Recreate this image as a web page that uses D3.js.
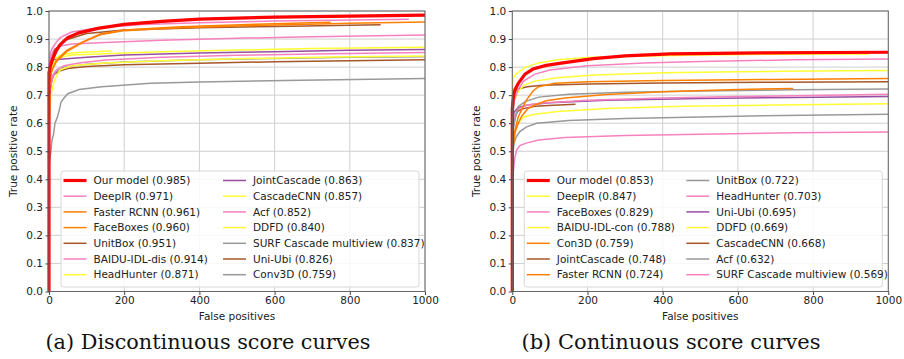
<!DOCTYPE html>
<html>
<head>
<meta charset="utf-8">
<script src="https://cdn.jsdelivr.net/npm/d3@7"></script>
<style>
  body { margin: 0; background: #fff; }
  text { font-family: "DejaVu Sans", sans-serif; }
</style>
</head>
<body>
<div id="chart"></div>
<script>
// tick values shared by both panels
const xTicks = [0, 200, 400, 600, 800, 1000];
const yTicks = [0, 0.1, 0.2, 0.3, 0.4, 0.5, 0.6, 0.7, 0.8, 0.9, 1.0];

// (a) discontinuous score curves
const leftNames = ['Our model', 'DeepIR', 'Faster RCNN', 'FaceBoxes', 'UnitBox', 'BAIDU-IDL-dis', 'HeadHunter',
  'JointCascade', 'CascadeCNN', 'Acf', 'DDFD', 'SURF Cascade multiview', 'Uni-Ubi', 'Conv3D'];
const leftScores = ['0.985', '0.971', '0.961', '0.960', '0.951', '0.914', '0.871',
  '0.863', '0.857', '0.852', '0.840', '0.837', '0.826', '0.759'];
const leftCurves = [
  [[0, 0], [0, 0.78], [3, 0.80], [10, 0.83], [20, 0.86], [30, 0.88], [50, 0.905], [80, 0.922], [130, 0.938], [200, 0.952], [300, 0.963], [400, 0.971], [600, 0.978], [800, 0.982], [1000, 0.985]],
  [[0, 0], [0, 0.80], [3, 0.85], [10, 0.87], [20, 0.89], [30, 0.905], [60, 0.925], [130, 0.94], [250, 0.952], [400, 0.958], [600, 0.964], [957, 0.971]],
  [[0, 0], [0, 0.74], [8, 0.79], [20, 0.82], [47, 0.855], [90, 0.888], [136, 0.915], [200, 0.93], [350, 0.94], [550, 0.948], [800, 0.956], [1000, 0.961]],
  [[0, 0], [0, 0.74], [8, 0.79], [20, 0.825], [47, 0.86], [90, 0.89], [136, 0.918], [200, 0.932], [350, 0.944], [550, 0.953], [749, 0.960]],
  [[0, 0], [0, 0.75], [5, 0.82], [15, 0.86], [40, 0.895], [100, 0.92], [200, 0.932], [400, 0.94], [600, 0.945], [882, 0.951]],
  [[0, 0], [0, 0.78], [5, 0.84], [15, 0.865], [30, 0.875], [60, 0.882], [150, 0.888], [300, 0.896], [500, 0.903], [700, 0.908], [1000, 0.914]],
  [[0, 0], [0, 0.72], [5, 0.78], [15, 0.82], [30, 0.835], [60, 0.843], [150, 0.848], [300, 0.855], [500, 0.861], [700, 0.866], [1000, 0.871]],
  [[0, 0], [0, 0.78], [8, 0.825], [30, 0.828], [100, 0.835], [200, 0.843], [400, 0.85], [600, 0.855], [800, 0.86], [1000, 0.863]],
  [[0, 0], [0, 0.72], [5, 0.79], [15, 0.83], [30, 0.842], [60, 0.85], [100, 0.854], [167, 0.857]],
  [[0, 0], [0, 0.70], [10, 0.77], [20, 0.79], [40, 0.805], [80, 0.815], [150, 0.825], [300, 0.835], [500, 0.842], [750, 0.848], [1000, 0.852]],
  [[0, 0], [0, 0.60], [5, 0.70], [12, 0.74], [20, 0.77], [30, 0.79], [60, 0.805], [150, 0.815], [300, 0.823], [500, 0.83], [750, 0.836], [1000, 0.840]],
  [[0, 0], [0, 0.65], [5, 0.74], [15, 0.78], [40, 0.80], [100, 0.81], [200, 0.818], [400, 0.826], [600, 0.831], [800, 0.835], [1000, 0.837]],
  [[0, 0], [0, 0.70], [10, 0.77], [25, 0.785], [50, 0.795], [100, 0.802], [200, 0.808], [400, 0.814], [600, 0.819], [800, 0.823], [1000, 0.826]],
  [[0, 0], [0, 0.45], [5, 0.50], [8, 0.54], [12, 0.56], [16, 0.60], [22, 0.62], [27, 0.645], [32, 0.675], [40, 0.69], [50, 0.705], [80, 0.72], [140, 0.73], [270, 0.742], [400, 0.747], [670, 0.753], [1000, 0.759]],
];
const leftColors = ['#ff0000', '#f781bf', '#ff7f00', '#ff7f00', '#a65628', '#f781bf', '#ffff33',
  '#984ea3', '#ffff33', '#f781bf', '#ffff33', '#999999', '#a65628', '#999999'];

// (b) continuous score curves
const rightNames = ['Our model', 'DeepIR', 'FaceBoxes', 'BAIDU-IDL-con', 'Con3D', 'JointCascade', 'Faster RCNN',
  'UnitBox', 'HeadHunter', 'Uni-Ubi', 'DDFD', 'CascadeCNN', 'Acf', 'SURF Cascade multiview'];
const rightScores = ['0.853', '0.847', '0.829', '0.788', '0.759', '0.748', '0.724',
  '0.722', '0.703', '0.695', '0.669', '0.668', '0.632', '0.569'];
const rightCurves = [
  [[0, 0], [0, 0.65], [3, 0.695], [7, 0.72], [16, 0.742], [34, 0.775], [55, 0.793], [90, 0.806], [130, 0.814], [215, 0.83], [300, 0.84], [420, 0.847], [660, 0.851], [1000, 0.853]],
  [[0, 0], [0, 0.70], [2, 0.76], [10, 0.775], [25, 0.79], [35, 0.80], [70, 0.815], [120, 0.826], [200, 0.834], [300, 0.838], [500, 0.843], [700, 0.846], [950, 0.847]],
  [[0, 0], [0, 0.60], [5, 0.68], [15, 0.72], [30, 0.75], [60, 0.775], [100, 0.79], [200, 0.805], [350, 0.815], [500, 0.82], [750, 0.826], [1000, 0.829]],
  [[0, 0], [0, 0.62], [5, 0.68], [15, 0.71], [30, 0.735], [60, 0.75], [120, 0.762], [220, 0.772], [400, 0.78], [600, 0.783], [800, 0.786], [1000, 0.788]],
  [[0, 0], [0, 0.50], [7, 0.575], [16, 0.623], [29, 0.66], [38, 0.683], [55, 0.715], [70, 0.73], [113, 0.742], [200, 0.748], [400, 0.752], [700, 0.756], [1000, 0.759]],
  [[0, 0], [0, 0.68], [5, 0.71], [15, 0.722], [40, 0.73], [80, 0.735], [200, 0.74], [400, 0.743], [700, 0.746], [1000, 0.748]],
  [[0, 0], [0, 0.50], [8, 0.57], [16, 0.60], [25, 0.625], [40, 0.65], [60, 0.665], [90, 0.68], [140, 0.69], [250, 0.702], [400, 0.712], [600, 0.72], [747, 0.724]],
  [[0, 0], [0, 0.55], [5, 0.60], [16, 0.66], [34, 0.677], [70, 0.693], [150, 0.703], [300, 0.71], [500, 0.715], [750, 0.719], [1000, 0.722]],
  [[0, 0], [0, 0.58], [5, 0.62], [15, 0.65], [40, 0.665], [80, 0.672], [200, 0.682], [400, 0.69], [600, 0.695], [800, 0.699], [1000, 0.703]],
  [[0, 0], [0, 0.60], [5, 0.64], [15, 0.655], [40, 0.665], [100, 0.673], [250, 0.682], [500, 0.688], [750, 0.692], [1000, 0.695]],
  [[0, 0], [0, 0.50], [5, 0.57], [15, 0.60], [30, 0.622], [60, 0.632], [120, 0.642], [250, 0.652], [450, 0.66], [700, 0.665], [1000, 0.669]],
  [[0, 0], [0, 0.55], [5, 0.62], [15, 0.643], [30, 0.652], [60, 0.66], [110, 0.664], [168, 0.668]],
  [[0, 0], [0, 0.48], [5, 0.53], [10, 0.55], [20, 0.57], [38, 0.587], [65, 0.60], [150, 0.61], [300, 0.617], [600, 0.625], [1000, 0.632]],
  [[0, 0], [0, 0.38], [3, 0.43], [7, 0.48], [12, 0.505], [20, 0.52], [35, 0.528], [70, 0.54], [140, 0.549], [300, 0.556], [500, 0.561], [750, 0.566], [1000, 0.569]],
];
const rightColors = ['#ff0000', '#ffff33', '#f781bf', '#ffff33', '#ff7f00', '#a65628', '#ff7f00',
  '#999999', '#f781bf', '#984ea3', '#ffff33', '#a65628', '#999999', '#f781bf'];

const width = 904;
const height = 359;

const svg = d3.select('#chart')
  .append('svg')
  .attr('width', width)
  .attr('height', height);

function drawPanel(left, names, scores, curves, colors, caption, captionX, captionW) {
  const plotW = 376;
  const plotH = 280.5;
  const top = 11;

  const x = d3.scaleLinear().domain([0, 1000]).range([left, left + plotW]);
  const y = d3.scaleLinear().domain([0, 1]).range([top + plotH, top]);

  const g = svg.append('g');

  // grid
  g.append('g')
    .selectAll('line.gx')
    .data(xTicks)
    .join('line')
    .attr('x1', (d) => x(d)).attr('x2', (d) => x(d))
    .attr('y1', top).attr('y2', top + plotH)
    .attr('stroke', '#cfcfcf').attr('stroke-width', 1);

  g.append('g')
    .selectAll('line.gy')
    .data(yTicks)
    .join('line')
    .attr('x1', left).attr('x2', left + plotW)
    .attr('y1', (d) => y(d)).attr('y2', (d) => y(d))
    .attr('stroke', '#cfcfcf').attr('stroke-width', 1);

  const line = d3.line()
    .x((d) => x(d[0]))
    .y((d) => y(d[1]));

  // draw from last to first so the red model ends on top
  const order = d3.range(curves.length).reverse();
  g.append('g')
    .selectAll('path')
    .data(order)
    .join('path')
    .attr('fill', 'none')
    .attr('stroke', (i) => colors[i])
    .attr('stroke-width', (i) => i === 0 ? 3.2 : 1.5)
    .attr('d', (i) => line(curves[i]));

  // frame
  g.append('rect')
    .attr('x', left).attr('y', top)
    .attr('width', plotW).attr('height', plotH)
    .attr('fill', 'none')
    .attr('stroke', '#666').attr('stroke-width', 1);

  // axes
  const xAxis = g.append('g')
    .attr('transform', `translate(0, ${top + plotH})`)
    .call(d3.axisBottom(x).tickValues(xTicks).tickFormat(d3.format('d')).tickSize(3.5).tickPadding(2));
  const yAxis = g.append('g')
    .attr('transform', `translate(${left}, 0)`)
    .call(d3.axisLeft(y).tickValues(yTicks).tickFormat(d3.format('.1f')).tickSize(3.5).tickPadding(2.5));

  [xAxis, yAxis].forEach((a) => {
    a.select('.domain').remove();
    a.selectAll('line').attr('stroke', '#444');
    a.selectAll('text')
      .attr('fill', '#222')
      .style('font-size', '10.5px')
      .style('font-family', '"DejaVu Sans", sans-serif');
  });

  g.append('text')
    .attr('x', x(500)).attr('y', 319.5)
    .attr('text-anchor', 'middle')
    .style('font-size', '10.5px')
    .attr('fill', '#222')
    .text('False positives');

  g.append('text')
    .attr('transform', `translate(${left - 32}, ${top + plotH / 2}) rotate(-90)`)
    .attr('text-anchor', 'middle')
    .style('font-size', '10.5px')
    .attr('fill', '#222')
    .text('True positive rate');

  // legend
  const lx = left + 12;
  const ly = 171;
  const lw = plotW - 18;
  const lh = 116;
  g.append('rect')
    .attr('x', lx).attr('y', ly)
    .attr('width', lw).attr('height', lh)
    .attr('rx', 2.5)
    .attr('fill', 'rgba(255,255,255,0.85)')
    .attr('stroke', '#d8d8d8');

  const rowH = 15.7;
  const colX = [lx + 2.5, lx + 162];
  const items = g.append('g')
    .selectAll('g')
    .data(d3.range(names.length))
    .join('g')
    .attr('transform', (i) => `translate(${colX[Math.floor(i / 7)]}, ${ly + 9.5 + (i % 7) * rowH})`);

  items.append('line')
    .attr('x1', 0).attr('x2', 23)
    .attr('stroke', (i) => colors[i])
    .attr('stroke-width', (i) => i === 0 ? 3.2 : 1.5);

  items.append('text')
    .attr('x', 30)
    .attr('dy', '0.35em')
    .style('font-size', '10.5px')
    .attr('fill', '#222')
    .text((i) => `${names[i]} (${scores[i]})`);

  svg.append('text')
    .attr('x', captionX).attr('y', 349)
    .attr('text-anchor', 'middle')
    .style('font-family', '"DejaVu Serif", serif')
    .style('font-size', '20px')
    .attr('textLength', captionW)
    .attr('lengthAdjust', 'spacingAndGlyphs')
    .attr('fill', '#111')
    .text(caption);
}

drawPanel(49, leftNames, leftScores, leftCurves, leftColors, '(a) Discontinuous score curves', 208, 325);
drawPanel(512.3, rightNames, rightScores, rightCurves, rightColors, '(b) Continuous score curves', 671, 299);
</script>
</body>
</html>
